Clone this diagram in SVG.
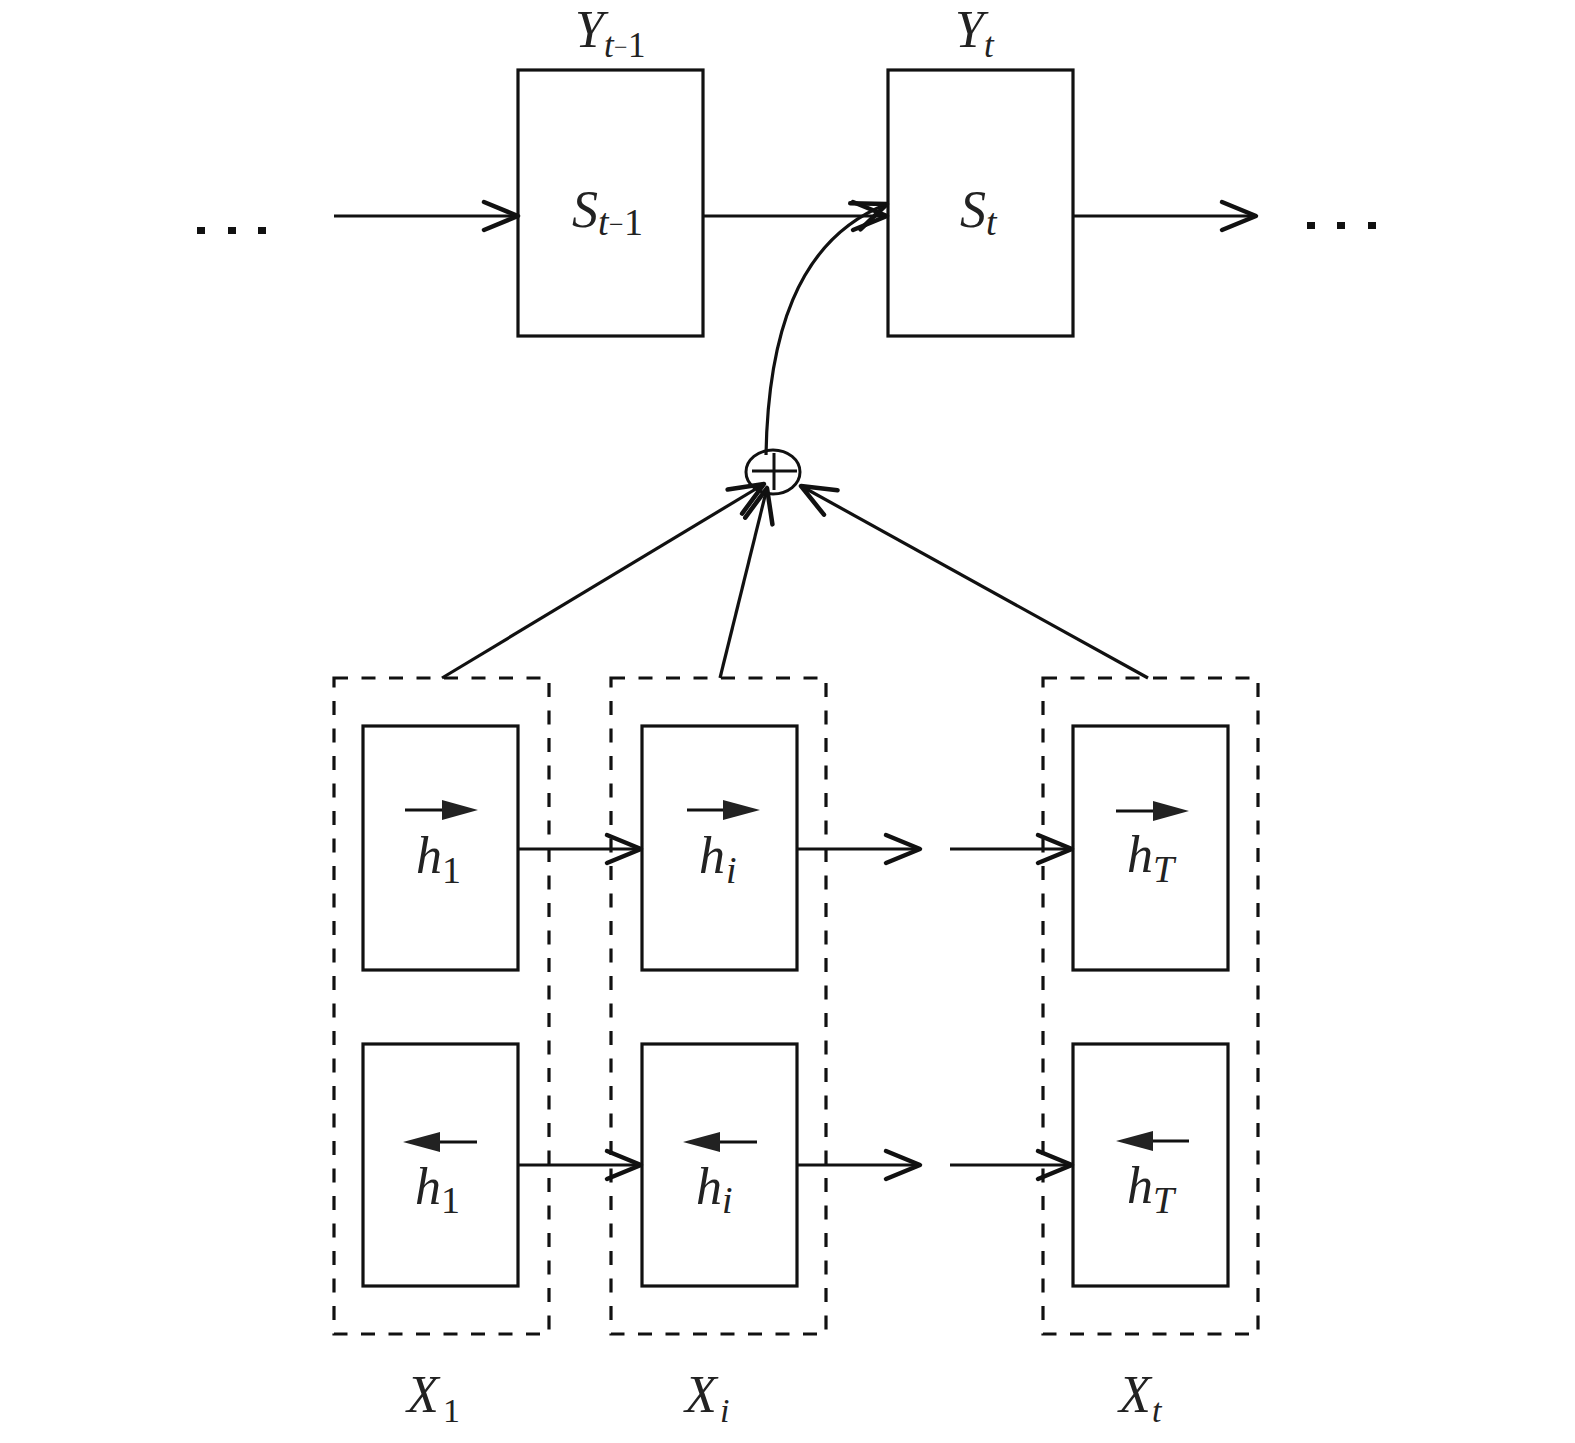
<svg xmlns="http://www.w3.org/2000/svg" width="1575" height="1443" viewBox="0 0 1575 1443">
<defs>
<style>
.box{fill:none;stroke:#111;stroke-width:3.2}
.dash{fill:none;stroke:#111;stroke-width:3.2;stroke-dasharray:14 13.5}
.arr{fill:none;stroke:#111;stroke-width:3.2;marker-end:url(#open)}
.t{font-family:"Liberation Serif","Times New Roman",serif;font-style:italic;fill:#222;font-size:52px}
.s{font-size:38px}
.s2{font-size:35px}
.up{font-style:normal}
</style>
<marker id="open" markerUnits="userSpaceOnUse" orient="auto" refX="0" refY="0" markerWidth="40" markerHeight="32" overflow="visible">
<path d="M-34,-14 L0,0 L-34,14" fill="none" stroke="#111" stroke-width="4.5" stroke-linecap="round" stroke-linejoin="round"/>
</marker>
</defs>
<rect width="1575" height="1443" fill="#fff"/>

<g id="dots-left" fill="#111">
<rect x="197" y="227" width="8" height="7"/>
<rect x="228" y="227" width="8" height="7"/>
<rect x="258" y="227" width="8" height="7"/>
</g>
<g id="dots-right" fill="#111">
<rect x="1307" y="222" width="8" height="7"/>
<rect x="1337" y="222" width="8" height="7"/>
<rect x="1368" y="222" width="8" height="7"/>
</g>

<g id="node-s-t-1">
<rect class="box" x="518" y="70" width="185" height="266"/>
<text class="t" x="572" y="227">S<tspan class="s" x="598" dy="8">t</tspan><tspan class="up" font-size="26" x="609" dy="-2">−</tspan><tspan class="up s" x="624" dy="2">1</tspan></text>
<text class="t" x="575" y="47">Y<tspan class="s2" x="604" dy="10">t</tspan><tspan class="up" font-size="24" x="614" dy="-2">−</tspan><tspan class="up s2" x="628" dy="2">1</tspan></text>
</g>

<g id="node-s-t">
<rect class="box" x="888" y="70" width="185" height="266"/>
<text class="t" x="960" y="227">S<tspan class="s" x="986" dy="8">t</tspan></text>
<text class="t" x="955" y="47">Y<tspan class="s2" x="984" dy="10">t</tspan></text>
</g>

<g id="node-sum">
<ellipse cx="773" cy="472" rx="27" ry="22" fill="none" stroke="#111" stroke-width="3"/>
<path d="M752,471 H797 M774,453 V490" stroke="#111" stroke-width="3"/>
</g>

<g id="node-x1">
<rect class="dash" x="334" y="678" width="215" height="656"/>
<g id="node-h1-fwd">
<rect class="box" x="363" y="726" width="155" height="244"/>
<path d="M405,810 H444" stroke="#111" stroke-width="3"/>
<polygon points="442,800 478,810 442,820" fill="#222"/>
<text class="t" x="416" y="873">h<tspan class="s up" x="442" dy="10">1</tspan></text>
</g>
<g id="node-h1-bwd">
<rect class="box" x="363" y="1044" width="155" height="242"/>
<path d="M440,1142 H477" stroke="#111" stroke-width="3"/>
<polygon points="440,1132 403,1142 440,1152" fill="#222"/>
<text class="t" x="415" y="1204">h<tspan class="s up" x="441" dy="9">1</tspan></text>
</g>
<text class="t" x="407" y="1412">X<tspan class="up" font-size="34" x="443" dy="10">1</tspan></text>
</g>

<g id="node-xi">
<rect class="dash" x="611" y="678" width="215" height="656"/>
<g id="node-hi-fwd">
<rect class="box" x="642" y="726" width="155" height="244"/>
<path d="M687,810 H725" stroke="#111" stroke-width="3"/>
<polygon points="723,800 760,810 723,820" fill="#222"/>
<text class="t" x="699" y="873">h<tspan class="s" x="726" dy="10">i</tspan></text>
</g>
<g id="node-hi-bwd">
<rect class="box" x="642" y="1044" width="155" height="242"/>
<path d="M720,1142 H757" stroke="#111" stroke-width="3"/>
<polygon points="720,1132 683,1142 720,1152" fill="#222"/>
<text class="t" x="696" y="1204">h<tspan class="s" x="722" dy="9">i</tspan></text>
</g>
<text class="t" x="685" y="1412">X<tspan font-size="34" x="720" dy="10">i</tspan></text>
</g>

<g id="node-xt">
<rect class="dash" x="1043" y="678" width="215" height="656"/>
<g id="node-hT-fwd">
<rect class="box" x="1073" y="726" width="155" height="244"/>
<path d="M1116,811 H1155" stroke="#111" stroke-width="3"/>
<polygon points="1153,801 1189,811 1153,821" fill="#222"/>
<text class="t" x="1127" y="872">h<tspan class="s" x="1153" dy="10">T</tspan></text>
</g>
<g id="node-hT-bwd">
<rect class="box" x="1073" y="1044" width="155" height="242"/>
<path d="M1153,1141 H1189" stroke="#111" stroke-width="3"/>
<polygon points="1153,1131 1116,1141 1153,1151" fill="#222"/>
<text class="t" x="1127" y="1203">h<tspan class="s" x="1153" dy="10">T</tspan></text>
</g>
<text class="t" x="1119" y="1412">X<tspan font-size="34" x="1152" dy="10">t</tspan></text>
</g>

<g id="connectors">
<path class="arr" d="M334,216 H518"/>
<path class="arr" d="M703,216 H887"/>
<path class="arr" d="M1073,216 H1256"/>
<path class="arr" d="M766,455 C768,340 795,240 887,204"/>
<path class="arr" d="M442,678 L764,484"/>
<path class="arr" d="M720,678 L767,488"/>
<path class="arr" d="M1148,678 L801,486"/>
<path class="arr" d="M518,849 H641"/>
<path class="arr" d="M797,849 H920"/>
<path class="arr" d="M950,849 H1072"/>
<path class="arr" d="M518,1165 H641"/>
<path class="arr" d="M797,1165 H920"/>
<path class="arr" d="M950,1165 H1072"/>
</g>
</svg>
